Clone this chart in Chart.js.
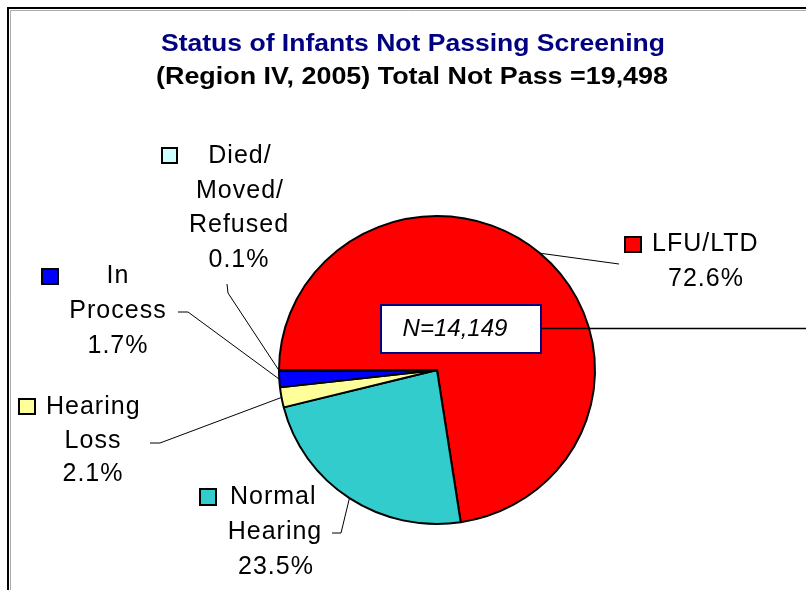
<!DOCTYPE html>
<html><head><meta charset="utf-8">
<script src="https://cdn.jsdelivr.net/npm/chart.js@4.4.1/dist/chart.umd.min.js"></script>
<style>html,body{margin:0;padding:0;background:#fff;}#wrap{width:806px;height:590px;position:relative}</style>
</head><body><div id="wrap"><canvas id="c" width="806" height="590"></canvas></div>
<script>
// ---- data ----
const categories = ['LFU/LTD', 'Normal Hearing', 'Hearing Loss', 'In Process', 'Died/Moved/Refused'];
const labelLines = [['LFU/LTD'], ['Normal', 'Hearing'], ['Hearing', 'Loss'], ['In', 'Process'], ['Died/', 'Moved/', 'Refused']];
const percentValues = [72.6, 23.5, 2.1, 1.7, 0.1];
const sliceColors = ['#FF0000', '#33CCCC', '#FFFF99', '#0000FF', '#CCFFFF'];
const titleLines = ['Status of Infants Not Passing Screening', '(Region IV, 2005) Total Not Pass =19,498'];
const calloutText = 'N=14,149';

// ---- layout (drawing only) ----
const FONT = "'Liberation Sans', Arial, sans-serif";
const ky = 154 / 158; // slight vertical squash of the pie as in the original
const labelLayout = [
  { key: [625, 237, 16, 15], lines: [[652, 244, 'left'], [706, 279, 'center']], leader: [[619, 264]] },
  { key: [200, 489, 16, 16], lines: [[230, 497, 'left'], [275, 532, 'center'], [276, 567, 'center']], leader: [[332, 533], [341, 533]] },
  { key: [19, 399, 16, 15], lines: [[46, 407, 'left'], [93, 441, 'center'], [93, 474, 'center']], leader: [[150, 443], [160, 443]] },
  { key: [42, 269, 16, 15], lines: [[118, 276, 'center'], [118, 311, 'center'], [118, 346, 'center']], leader: [[178, 312], [188, 312]] },
  { key: [162, 148, 15, 15], lines: [[240, 156, 'center'], [240, 191, 'center'], [239, 225, 'center'], [239, 260, 'center']], leader: [[227, 284], [228, 293]] }
];

function fitText(ctx, text, cx, cy, targetW) {
  const w = ctx.measureText(text).width;
  const s = targetW / w;
  ctx.save();
  ctx.translate(cx, cy);
  ctx.scale(s, 1);
  ctx.textAlign = 'center';
  ctx.fillText(text, 0, 0);
  ctx.restore();
}

const squash = {
  id: 'squash',
  beforeDatasetsDraw(chart) {
    const a = chart.getDatasetMeta(0).data[0];
    const ctx = chart.ctx;
    ctx.save();
    ctx.translate(a.x, a.y); ctx.scale(1, ky); ctx.translate(-a.x, -a.y);
  },
  afterDatasetsDraw(chart) { chart.ctx.restore(); }
};

const annot = {
  id: 'annot',
  beforeDraw(chart) {
    const ctx = chart.ctx;
    ctx.save();
    ctx.fillStyle = '#fff';
    ctx.fillRect(0, 0, 806, 590);
    // frame
    ctx.strokeStyle = '#aaa'; ctx.lineWidth = 1;
    ctx.beginPath(); ctx.moveTo(10.5, 590); ctx.lineTo(10.5, 10.5); ctx.lineTo(806, 10.5); ctx.stroke();
    ctx.strokeStyle = '#000'; ctx.lineWidth = 2;
    ctx.beginPath(); ctx.moveTo(8, 590); ctx.lineTo(8, 8); ctx.lineTo(806, 8); ctx.stroke();
    // titles
    ctx.textBaseline = 'alphabetic';
    ctx.font = 'bold 24px ' + FONT;
    ctx.fillStyle = '#000080';
    fitText(ctx, titleLines[0], 413, 51, 504);
    ctx.fillStyle = '#000';
    fitText(ctx, titleLines[1], 412, 84, 512);
    ctx.restore();
  },
  afterDraw(chart) {
    const ctx = chart.ctx;
    const meta = chart.getDatasetMeta(0);
    ctx.save();
    // leaders
    ctx.strokeStyle = '#000'; ctx.lineWidth = 1;
    meta.data.forEach((arc, i) => {
      const p = arc.getProps(['x', 'y', 'startAngle', 'endAngle', 'outerRadius'], true);
      const mid = (p.startAngle + p.endAngle) / 2;
      const ex = p.x + p.outerRadius * Math.cos(mid);
      const ey = p.y + p.outerRadius * Math.sin(mid) * ky;
      const pts = labelLayout[i].leader;
      ctx.beginPath();
      ctx.moveTo(pts[0][0], pts[0][1]);
      for (let k = 1; k < pts.length; k++) ctx.lineTo(pts[k][0], pts[k][1]);
      ctx.lineTo(ex, ey);
      ctx.stroke();
    });
    // labels
    ctx.font = '25px ' + FONT;
    ctx.letterSpacing = '1px';
    ctx.textBaseline = 'middle';
    ctx.fillStyle = '#000';
    categories.forEach((c, i) => {
      const L = labelLayout[i];
      const texts = labelLines[i].concat([percentValues[i].toFixed(1) + '%']);
      texts.forEach((t, k) => {
        const [x, y, al] = L.lines[k];
        ctx.textAlign = al;
        ctx.fillText(t, x, y);
      });
      const [kx, kyy, kw, kh] = L.key;
      ctx.fillStyle = sliceColors[i];
      ctx.fillRect(kx, kyy, kw, kh);
      ctx.strokeStyle = '#000'; ctx.lineWidth = 2;
      ctx.strokeRect(kx, kyy, kw, kh);
      ctx.fillStyle = '#000';
    });
    ctx.letterSpacing = '0px';
    // callout
    ctx.strokeStyle = '#000'; ctx.lineWidth = 1.5;
    ctx.beginPath(); ctx.moveTo(541, 328.5); ctx.lineTo(806, 328.5); ctx.stroke();
    ctx.fillStyle = '#fff';
    ctx.fillRect(381, 305, 160, 48);
    ctx.strokeStyle = '#000080'; ctx.lineWidth = 2;
    ctx.strokeRect(381, 305, 160, 48);
    ctx.fillStyle = '#000';
    ctx.font = 'italic 24px ' + FONT;
    ctx.textAlign = 'center';
    ctx.textBaseline = 'middle';
    ctx.fillText(calloutText, 455, 329);
    ctx.restore();
  }
};

new Chart(document.getElementById('c'), {
  type: 'pie',
  data: {
    labels: categories,
    datasets: [{
      data: percentValues,
      backgroundColor: sliceColors,
      borderColor: '#000',
      borderWidth: 2,
      radius: 158
    }]
  },
  options: {
    responsive: false,
    animation: false,
    rotation: -90,
    layout: { padding: { left: 279, right: 211, top: 212, bottom: 62 } },
    plugins: { legend: { display: false }, tooltip: { enabled: false }, title: { display: false } }
  },
  plugins: [squash, annot]
});
</script>
</body></html>
